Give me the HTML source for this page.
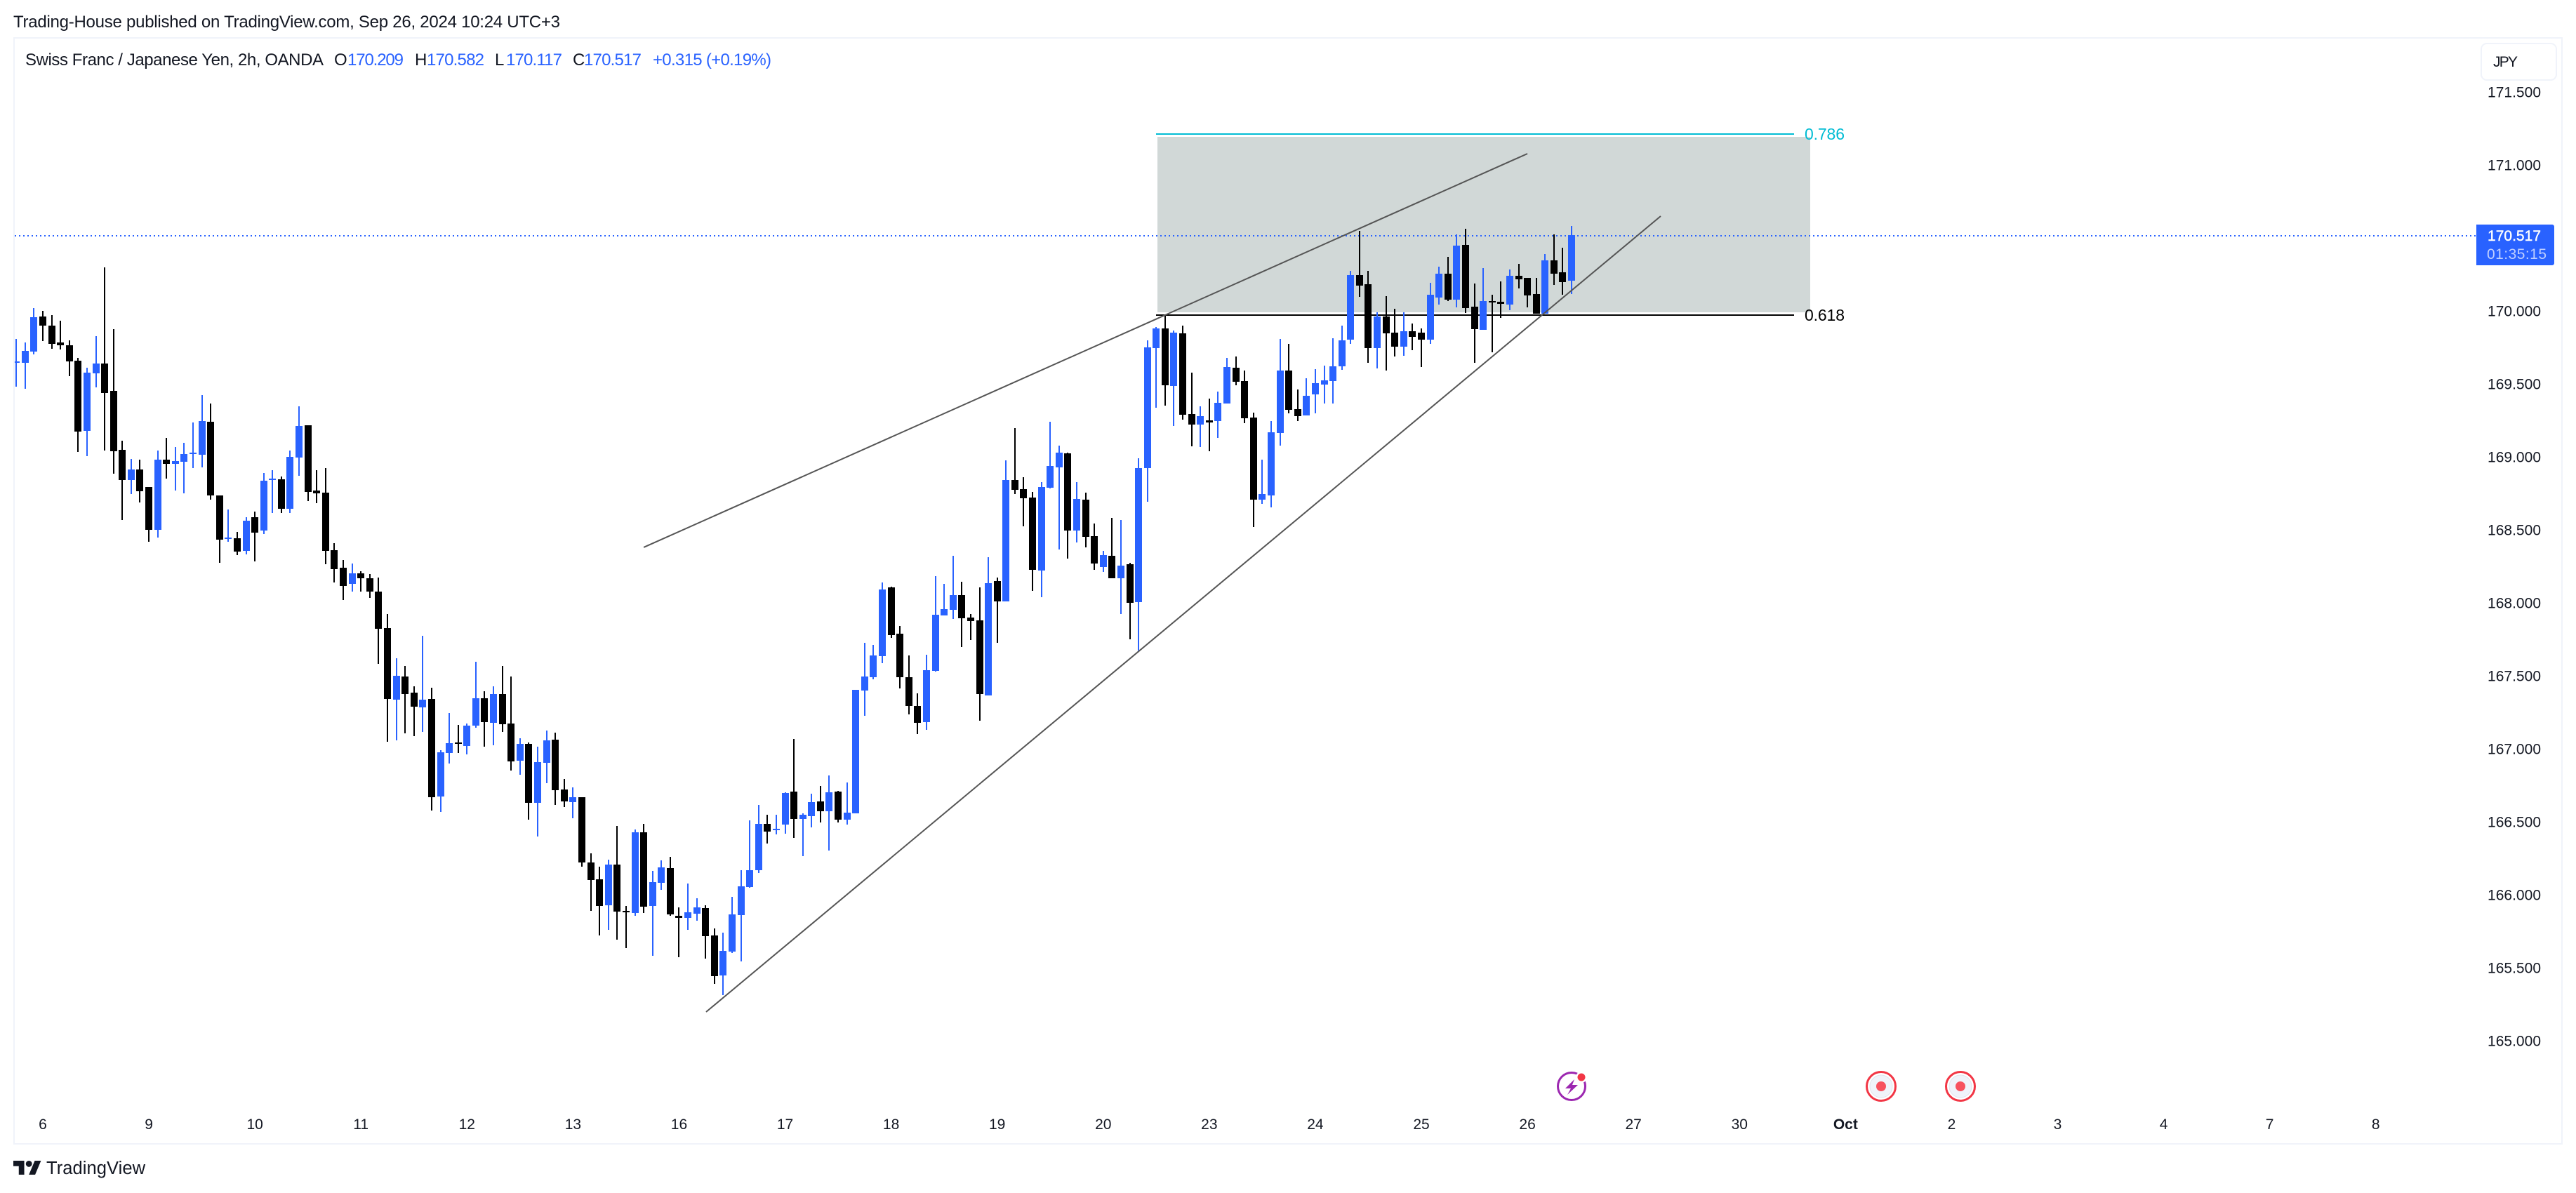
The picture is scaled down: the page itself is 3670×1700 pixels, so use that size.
<!DOCTYPE html>
<html lang="en">
<head>
<meta charset="utf-8">
<title>CHF/JPY 2h chart</title>
<style>
html,body{margin:0;padding:0;background:#fff;}
svg{display:block;}
text{font-family:"Liberation Sans",sans-serif;fill:#131722;}
</style>
</head>
<body>
<svg id="chart" xmlns="http://www.w3.org/2000/svg" width="3670" height="1700" viewBox="0 0 3670 1700">
  <defs>
    <clipPath id="plot-clip"><rect x="21" y="55" width="3507" height="1574"/></clipPath>
  </defs>
  <rect x="0" y="0" width="3670" height="1700" fill="#ffffff"/>
  <text x="19" y="39" font-size="24" textLength="779" lengthAdjust="spacing">Trading-House published on TradingView.com, Sep 26, 2024 10:24 UTC+3</text>
  <rect x="20" y="54" width="3630" height="1576" fill="none" stroke="#f0f3fa" stroke-width="2"/>

  <g id="fib-layer"></g>
  <g id="price-line-layer"></g>
  <g id="candle-layer" clip-path="url(#plot-clip)"></g>
  <g id="trend-layer"></g>
  <g id="y-axis-layer"></g>
  <g id="x-axis-layer"></g>

  <g font-size="24">
    <text x="36" y="93" font-size="24" textLength="425" lengthAdjust="spacing">Swiss Franc / Japanese Yen, 2h, OANDA</text>
    <text x="476" y="93" font-size="24">O</text>
    <text x="495" y="93" font-size="24" textLength="80" lengthAdjust="spacing" style="fill:#2962ff">170.209</text>
    <text x="591" y="93" font-size="24">H</text>
    <text x="608" y="93" font-size="24" textLength="82" lengthAdjust="spacing" style="fill:#2962ff">170.582</text>
    <text x="705" y="93" font-size="24">L</text>
    <text x="721" y="93" font-size="24" textLength="80" lengthAdjust="spacing" style="fill:#2962ff">170.117</text>
    <text x="816" y="93" font-size="24">C</text>
    <text x="832" y="93" font-size="24" textLength="82" lengthAdjust="spacing" style="fill:#2962ff">170.517</text>
    <text x="930" y="93" font-size="24" textLength="169" lengthAdjust="spacing" style="fill:#2962ff">+0.315 (+0.19%)</text>
  </g>

  <g>
    <rect x="3535" y="62" width="107" height="52" rx="8" fill="#ffffff" stroke="#f0f3fa" stroke-width="2"/>
    <text x="3552" y="95" font-size="21" textLength="35" lengthAdjust="spacing">JPY</text>
  </g>

  <g>
    <path d="M3528 320H3636a3 3 0 0 1 3 3V375a3 3 0 0 1 -3 3H3528Z" fill="#2962ff"/>
    <text x="3544" y="343" font-size="21" textLength="76" lengthAdjust="spacing" stroke="#ffffff" stroke-width="0.4" style="fill:#ffffff">170.517</text>
    <text x="3543" y="369" font-size="21" textLength="85" lengthAdjust="spacing" style="fill:#bfcfff">01:35:15</text>
  </g>

  <g>
    <circle cx="2239" cy="1548" r="19.5" fill="#ffffff" stroke="#9c27b0" stroke-width="3"/>
    <polygon points="2243,1538 2230,1551 2238,1551 2233,1560 2248,1546 2240,1546" fill="#9c27b0"/>
    <circle cx="2253" cy="1535" r="8" fill="#ffffff"/>
    <circle cx="2253" cy="1535" r="5.5" fill="#f23645"/>
  </g>
  <g>
    <circle cx="2680" cy="1548" r="20.5" fill="#ffffff" stroke="#f23645" stroke-width="3"/>
    <circle cx="2680" cy="1548" r="16" fill="#f0f3fa" stroke="#e0e3eb" stroke-width="1"/>
    <circle cx="2680" cy="1548" r="7" fill="#f7525f"/>
  </g>
  <g>
    <circle cx="2793" cy="1548" r="20.5" fill="#ffffff" stroke="#f23645" stroke-width="3"/>
    <circle cx="2793" cy="1548" r="16" fill="#f0f3fa" stroke="#e0e3eb" stroke-width="1"/>
    <circle cx="2793" cy="1548" r="7" fill="#f7525f"/>
  </g>

  <g>
    <g transform="translate(19 1649.5) scale(1.11)" fill="#131722">
      <path d="M14 22H7V11H0V4h14v18zM28 22h-8l7.5-18h8L28 22z"/>
      <circle cx="20" cy="8" r="4"/>
    </g>
    <text x="66" y="1673" font-size="25.5" textLength="141" lengthAdjust="spacing">TradingView</text>
  </g>
</svg>
<script>
const opens = [
169.644,169.644,169.721,169.962,169.899,169.784,169.764,169.659,169.178,169.572,
169.639,169.452,169.048,168.841,168.913,168.793,168.500,168.981,168.952,168.966,
169.019,169.014,169.240,168.736,168.437,168.442,168.356,168.587,168.495,168.841,
168.846,168.644,168.995,169.216,168.769,168.755,168.361,168.240,168.130,168.202,
168.168,168.077,167.827,167.337,167.495,167.385,167.284,167.341,166.673,166.971,
167.043,167.019,167.159,167.346,167.178,167.375,167.173,166.918,167.034,166.630,
166.904,167.062,166.721,166.635,166.668,166.221,166.106,165.928,166.207,165.889,
165.875,166.428,165.923,166.082,166.183,165.856,165.841,165.870,165.909,165.721,
165.447,165.611,165.861,166.053,166.168,166.486,166.442,166.481,166.707,166.519,
166.538,166.639,166.572,166.707,166.514,166.558,167.399,167.490,167.635,168.106,
167.788,167.490,167.293,167.183,167.534,167.913,167.952,168.053,167.899,167.880,
167.365,168.149,168.010,168.841,168.779,168.721,168.221,168.788,168.928,169.024,
168.495,168.707,168.457,168.245,168.322,168.168,168.264,168.005,168.923,169.745,
169.880,169.486,169.846,169.293,169.221,169.250,169.245,169.365,169.611,169.519,
169.269,168.707,168.736,169.163,169.591,169.327,169.284,169.428,169.495,169.519,
169.620,169.803,170.245,170.183,169.745,169.962,169.851,169.755,169.861,169.851,
169.803,170.091,170.255,170.077,170.452,170.029,169.870,170.067,170.063,170.043,
170.240,170.226,170.115,169.981,170.346,170.264,170.209];
const highs = [
169.808,169.784,170.019,170.000,169.971,169.933,169.798,169.678,169.611,169.827,
170.298,169.875,169.111,168.986,168.981,168.793,169.043,169.130,169.067,169.096,
169.236,169.423,169.365,168.736,168.639,168.486,168.587,168.625,168.889,168.909,
168.865,169.043,169.346,169.216,168.909,168.923,168.409,168.293,168.269,168.216,
168.197,168.173,167.923,167.620,167.567,167.428,167.774,167.418,166.990,167.245,
167.163,167.173,167.596,167.394,167.428,167.567,167.495,167.072,167.043,167.014,
167.125,167.111,166.793,166.736,166.668,166.284,166.192,166.240,166.471,165.923,
166.447,166.486,166.163,166.236,166.260,165.913,166.077,165.976,165.928,165.769,
165.740,165.986,166.168,166.510,166.615,166.548,166.548,166.702,167.067,166.558,
166.692,166.745,166.817,166.712,166.769,167.404,167.726,167.712,168.139,168.111,
167.841,167.639,167.380,167.644,168.183,168.130,168.322,168.144,167.923,168.106,
168.312,168.173,168.976,169.197,168.861,168.760,168.827,169.240,169.077,169.029,
168.827,168.755,168.543,168.356,168.582,168.567,168.274,168.990,169.798,169.889,
169.966,169.865,169.899,169.577,169.346,169.399,169.447,169.678,169.687,169.591,
169.303,168.981,169.245,169.808,169.774,169.462,169.538,169.601,169.625,169.812,
169.899,170.274,170.548,170.274,169.990,170.101,170.014,169.990,169.913,169.880,
170.192,170.303,170.370,170.524,170.562,170.188,170.293,170.111,170.202,170.284,
170.322,170.226,170.226,170.389,170.524,170.433,170.582];
const lows = [
169.481,169.466,169.702,169.793,169.740,169.736,169.553,169.034,169.005,169.476,
169.043,168.885,168.567,168.745,168.687,168.418,168.447,168.851,168.769,168.750,
168.923,168.928,168.707,168.274,168.418,168.327,168.332,168.284,168.471,168.615,
168.615,168.615,168.870,168.697,168.683,168.264,168.139,168.019,168.077,168.077,
168.034,167.582,167.048,167.058,167.106,167.087,167.115,166.577,166.567,166.899,
166.971,166.962,167.144,167.014,167.024,167.115,166.851,166.822,166.514,166.399,
166.764,166.615,166.601,166.524,166.192,165.889,165.721,165.760,165.692,165.635,
165.856,165.875,165.582,166.034,165.856,165.572,165.760,165.822,165.562,165.389,
165.312,165.601,165.543,166.048,166.149,166.351,166.413,166.418,166.389,166.264,
166.462,166.495,166.303,166.495,166.481,166.558,167.226,167.476,167.587,167.760,
167.413,167.236,167.101,167.130,167.529,167.913,167.889,167.697,167.745,167.192,
167.365,167.726,168.010,168.745,168.524,168.082,168.038,168.784,168.365,168.303,
168.413,168.380,168.226,168.212,168.168,167.923,167.750,167.673,168.692,169.337,
169.351,169.212,169.255,169.072,169.067,169.038,169.130,169.365,169.490,169.231,
168.519,168.678,168.654,169.077,169.298,169.245,169.284,169.298,169.365,169.365,
169.596,169.774,170.096,169.644,169.606,169.591,169.687,169.692,169.731,169.615,
169.774,170.043,170.067,170.024,169.986,169.644,169.870,169.716,169.952,170.005,
170.154,170.024,169.981,169.981,170.178,170.111,170.117];
const closes = [
169.654,169.726,169.957,169.899,169.774,169.764,169.654,169.173,169.577,169.639,
169.438,169.038,168.841,168.913,168.764,168.500,168.981,168.952,168.971,169.019,
169.029,169.245,168.736,168.433,168.447,168.351,168.562,168.481,168.837,168.851,
168.644,169.000,169.212,168.760,168.750,168.356,168.231,168.115,168.202,168.168,
168.077,167.822,167.341,167.500,167.375,167.288,167.337,166.668,166.976,167.038,
167.034,167.159,167.346,167.183,167.375,167.168,166.913,167.034,166.630,166.909,
167.058,166.716,166.639,166.668,166.221,166.101,165.923,166.207,165.885,165.880,
166.428,165.918,166.087,166.187,165.865,165.841,165.880,165.913,165.716,165.442,
165.615,165.865,166.058,166.168,166.486,166.433,166.452,166.697,166.519,166.548,
166.635,166.572,166.702,166.514,166.562,167.404,167.495,167.639,168.091,167.779,
167.490,167.293,167.178,167.538,167.918,167.957,168.053,167.894,167.875,167.375,
168.135,168.010,168.841,168.774,168.716,168.226,168.793,168.937,169.029,168.495,
168.712,168.452,168.269,168.327,168.168,168.255,168.000,168.923,169.750,169.880,
169.490,169.851,169.288,169.221,169.279,169.236,169.370,169.615,169.514,169.264,
168.707,168.745,169.168,169.591,169.322,169.279,169.418,169.505,169.524,169.620,
169.798,170.245,170.173,169.745,169.962,169.846,169.755,169.861,169.822,169.803,
170.111,170.255,170.077,170.447,170.019,169.875,170.067,170.058,170.048,170.240,
170.216,170.106,169.981,170.346,170.255,170.197,170.517];
const priceTicks = ["171.500","171.000","170.000","169.500","169.000","168.500","168.000","167.500","167.000","166.500","166.000","165.500","165.000"];
const dayLabels = ["6","9","10","11","12","13","16","17","18","19","20","23","24","25","26","27","30","Oct","2","3","4","7","8"];
const barsPerDay = 12;
const firstDayBar = 3;
const lastPrice = 170.517;
const fibPrices = [171.212, 169.971];
const fibNames = ["0.786", "0.618"];
const fibColors = ["#00bcd4", "#000000"];
const fibStartBar = 129;
const fibLineEndBar = 201.2;
const fibFillEndBar = 203;
const upperTrendBars = [71, 171];
const upperTrendPrices = [168.380, 171.077];
const lowerTrendBars = [78.06, 186.08];
const lowerTrendPrices = [165.197, 170.649];

const SVG_NS = 'http://www.w3.org/2000/svg';
function xOf(bar) { return 23.2 + 12.59 * bar; }
function yOf(price) { return 443 - (price - 170) * 208; }
function make(tag, attrs, parent) {
  const el = document.createElementNS(SVG_NS, tag);
  for (const k in attrs) el.setAttribute(k, attrs[k]);
  parent.appendChild(el);
  return el;
}

const fibLayer = document.getElementById('fib-layer');
const fibTop = yOf(fibPrices[0]);
const fibBottom = yOf(fibPrices[1]);
const fibFill = make('rect', {x: Math.round(xOf(fibStartBar)) + 2, y: Math.round(fibTop) + 4, width: Math.round(xOf(fibFillEndBar) - xOf(fibStartBar)) - 2, height: Math.round(fibBottom - fibTop) - 8, fill: '#d1d8d7'}, fibLayer);


fibPrices.forEach(function (p, i) {
  const line = make('rect', {x: Math.round(xOf(fibStartBar)), y: Math.round(yOf(p)) - 1, width: Math.round(xOf(fibLineEndBar) - xOf(fibStartBar)), height: 2, fill: fibColors[i]}, fibLayer);
  
  
  const label = make('text', {x: 2571, y: yOf(p) + 8, 'font-size': 23, textLength: 57, lengthAdjust: 'spacing', style: 'fill:' + fibColors[i]}, fibLayer);
  label.textContent = fibNames[i];
  
  
});

const priceLineLayer = document.getElementById('price-line-layer');
const priceLine = make('line', {x1: 21, x2: 3527, y1: Math.ceil(yOf(lastPrice)), y2: Math.ceil(yOf(lastPrice)), stroke: '#2962ff', 'stroke-width': 2, 'stroke-dasharray': '2 4', 'shape-rendering': 'crispEdges'}, priceLineLayer);



const candleLayer = document.getElementById('candle-layer');
closes.forEach(function (c, i) {
  const o = opens[i];
  const color = c >= o ? '#2962ff' : '#000000';
  const cx = Math.round(xOf(i));
  const wickTop = Math.round(yOf(highs[i]));
  const wickBottom = Math.round(yOf(lows[i]));
  const bodyTop = Math.round(yOf(Math.max(o, c)));
  const bodyBottom = Math.round(yOf(Math.min(o, c)));
  const wick = make('rect', {x: cx - 1, y: wickTop, width: 2, height: Math.max(1, wickBottom - wickTop), fill: color}, candleLayer);
  
  
  const body = make('rect', {x: cx - 5, y: bodyTop, width: 10, height: Math.max(2, bodyBottom - bodyTop), fill: color}, candleLayer);
  
  
});

const trendLayer = document.getElementById('trend-layer');
const upperTrend = make('line', {x1: xOf(upperTrendBars[0]), y1: yOf(upperTrendPrices[0]), x2: xOf(upperTrendBars[1]), y2: yOf(upperTrendPrices[1]), stroke: '#555555', 'stroke-width': 2}, trendLayer);


const lowerTrend = make('line', {x1: xOf(lowerTrendBars[0]), y1: yOf(lowerTrendPrices[0]), x2: xOf(lowerTrendBars[1]), y2: yOf(lowerTrendPrices[1]), stroke: '#555555', 'stroke-width': 2}, trendLayer);



const yAxisLayer = document.getElementById('y-axis-layer');
priceTicks.forEach(function (t) {
  const label = make('text', {x: 3544, y: yOf(parseFloat(t)) + 7.5, 'font-size': 21, textLength: 76, lengthAdjust: 'spacing'}, yAxisLayer);
  label.textContent = t;
  
  
});

const xAxisLayer = document.getElementById('x-axis-layer');
dayLabels.forEach(function (d, j) {
  const label = make('text', {x: xOf(firstDayBar + barsPerDay * j), y: 1609, 'font-size': 21, 'text-anchor': 'middle', 'font-weight': d === 'Oct' ? 'bold' : 'normal'}, xAxisLayer);
  label.textContent = d;
  
  
});
</script>
</body>
</html>
